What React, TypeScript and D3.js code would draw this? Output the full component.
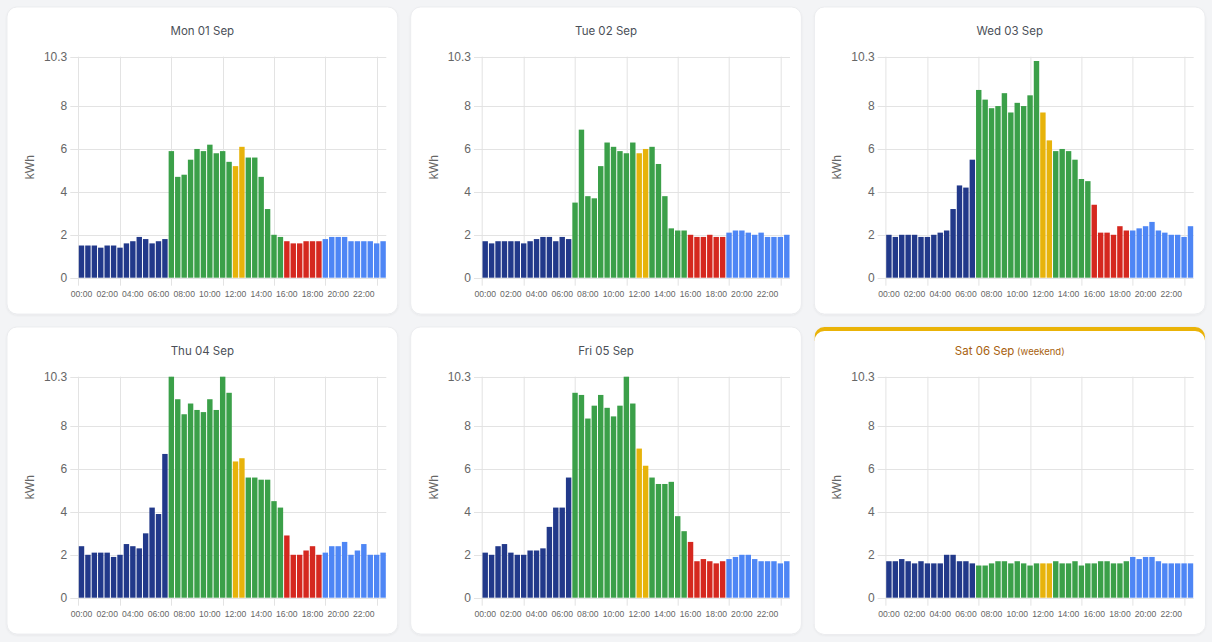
import { useEffect, useRef } from "react";
import * as d3 from "d3";

// Half-hourly consumption (kWh), 48 slots per day
const MON = [
  1.5, 1.5, 1.5, 1.4, 1.5, 1.5, 1.4, 1.6, 1.7, 1.9, 1.8, 1.6, 1.7, 1.8,
  5.9, 4.7, 4.8, 5.5, 6.0, 5.9, 6.2, 5.8, 5.9, 5.4,
  5.2, 6.1,
  5.6, 5.6, 4.7, 3.2, 2.0, 1.9,
  1.7, 1.6, 1.6, 1.7, 1.7, 1.7,
  1.8, 1.9, 1.9, 1.9, 1.7, 1.7, 1.7, 1.7, 1.6, 1.7,
];
const TUE = [
  1.7, 1.6, 1.7, 1.7, 1.7, 1.7, 1.6, 1.7, 1.8, 1.9, 1.9, 1.7, 1.9, 1.8,
  3.5, 6.9, 3.8, 3.7, 5.2, 6.3, 6.1, 5.9, 5.8, 6.3,
  5.8, 6.0,
  6.1, 5.3, 3.8, 2.3, 2.2, 2.2,
  2.0, 1.9, 1.9, 2.0, 1.9, 1.9,
  2.1, 2.2, 2.2, 2.1, 2.0, 2.1, 1.9, 1.9, 1.9, 2.0,
];
const WED = [
  2.0, 1.9, 2.0, 2.0, 2.0, 1.9, 1.9, 2.0, 2.1, 2.2, 3.2, 4.3, 4.2, 5.5,
  8.75, 8.3, 7.9, 8.0, 8.6, 7.7, 8.15, 8.0, 8.5, 10.1,
  7.7, 6.4,
  5.9, 6.0, 5.9, 5.5, 4.6, 4.5,
  3.4, 2.1, 2.1, 2.0, 2.4, 2.2,
  2.2, 2.3, 2.4, 2.6, 2.2, 2.1, 2.0, 2.0, 1.9, 2.4,
];
const THU = [
  2.4, 2.0, 2.1, 2.1, 2.1, 1.9, 2.0, 2.5, 2.4, 2.3, 3.0, 4.2, 3.9, 6.7,
  10.6, 9.25, 8.55, 9.05, 8.75, 8.65, 9.25, 8.75, 10.5, 9.55,
  6.35, 6.5,
  5.6, 5.6, 5.5, 5.5, 4.5, 4.2,
  2.9, 2.0, 2.0, 2.2, 2.4, 2.0,
  2.1, 2.4, 2.4, 2.6, 2.0, 2.2, 2.5, 2.0, 2.0, 2.1,
];
const FRI = [
  2.1, 2.0, 2.4, 2.5, 2.1, 2.0, 2.0, 2.2, 2.2, 2.3, 3.3, 4.2, 4.2, 5.6,
  9.55, 9.45, 8.35, 8.95, 9.45, 8.85, 8.45, 8.95, 10.4, 9.05,
  6.95, 6.15,
  5.6, 5.3, 5.3, 5.4, 3.8, 3.1,
  2.6, 1.7, 1.8, 1.7, 1.6, 1.7,
  1.8, 1.9, 2.0, 2.0, 1.8, 1.7, 1.7, 1.7, 1.6, 1.7,
];
const SAT = [
  1.7, 1.7, 1.8, 1.7, 1.6, 1.7, 1.6, 1.6, 1.6, 2.0, 2.0, 1.7, 1.7, 1.6,
  1.5, 1.5, 1.6, 1.7, 1.7, 1.6, 1.7, 1.6, 1.5, 1.6,
  1.6, 1.6,
  1.7, 1.6, 1.6, 1.7, 1.5, 1.6, 1.6, 1.7, 1.7, 1.6, 1.6, 1.7,
  1.9, 1.8, 1.9, 1.9, 1.7, 1.6, 1.6, 1.6, 1.6, 1.6,
];

const DAY_TITLES = ["Mon 01 Sep", "Tue 02 Sep", "Wed 03 Sep", "Thu 04 Sep", "Fri 05 Sep", "Sat 06 Sep"];
const DAY_VALUES = [MON, TUE, WED, THU, FRI, SAT];
const WEEKEND = [false, false, false, false, false, true];

// Tariff periods as [first slot, last slot + 1, band]
const WEEKDAY_PERIODS: [number, number, string][] = [
  [0, 14, "night"], [14, 24, "day"], [24, 26, "midday"], [26, 32, "day"], [32, 38, "peak"], [38, 48, "evening"],
];
const WEEKEND_PERIODS: [number, number, string][] = [
  [0, 14, "night"], [14, 24, "day"], [24, 26, "midday"], [26, 38, "day"], [38, 48, "evening"],
];
const BAND_COLORS: Record<string, string> = {
  night: "#22398a",
  day: "#3ba049",
  midday: "#e7b30b",
  peak: "#d5281f",
  evening: "#4e86f5",
};

const SLOTS = d3.range(48).map((i) => `${String(Math.floor(i / 2)).padStart(2, "0")}:${i % 2 ? "30" : "00"}`);
const X_TICK_LABELS = ["00:00", "02:00", "04:00", "06:00", "08:00", "10:00", "12:00", "14:00", "16:00", "18:00", "20:00", "22:00"];
const X_GRID_SLOTS = ["03:00", "07:00", "11:00", "15:00", "19:00", "23:00"];
const Y_TICKS = [0, 2, 4, 6, 8, 10.3];
const Y_MAX = 10.3;

const W = 1212;
const H = 642;
const CARD = { w: 390.7, h: 307, gapX: 13, gapY: 13, x0: 7, y0: 7, r: 10 };
const PLOT = { left: 71.3, right: 379.3, top: 49.7, bottom: 270.7 };
const GRID = "#e3e3e3";
const TICK_FONT = "'Liberation Sans', Arial, Helvetica, sans-serif";

function cardPath(w: number, h: number, r: number, dy = 0) {
  const p = d3.path();
  p.moveTo(r, dy);
  p.lineTo(w - r, dy);
  p.arcTo(w, dy, w, dy + r, r);
  p.lineTo(w, dy + h - r);
  p.arcTo(w, dy + h, w - r, dy + h, r);
  p.lineTo(r, dy + h);
  p.arcTo(0, dy + h, 0, dy + h - r, r);
  p.lineTo(0, dy + r);
  p.arcTo(0, dy, r, dy, r);
  p.closePath();
  return p.toString();
}

export default function App() {
  const svgRef = useRef<SVGSVGElement>(null);

  useEffect(() => {
    const svg = svgRef.current;
    if (!svg) return;
    const root = d3.select(svg);
    root.selectAll("*").remove();

    const defs = root.append("defs");
    const shadow = defs.append("filter").attr("id", "shadow").attr("x", "-5%").attr("y", "-5%").attr("width", "110%").attr("height", "110%");
    shadow.append("feDropShadow").attr("dx", 0).attr("dy", 1).attr("stdDeviation", 1.2).attr("flood-color", "#000").attr("flood-opacity", 0.06);

    root.append("rect").attr("width", W).attr("height", H).attr("fill", "#f3f4f6");

    const x = d3.scaleBand<string>().domain(SLOTS).range([PLOT.left, PLOT.right]).padding(0);
    const y = d3.scaleLinear().domain([0, Y_MAX]).range([PLOT.bottom, PLOT.top]).clamp(true);

    DAY_VALUES.forEach((values, d) => {
      const col = d % 3;
      const row = Math.floor(d / 3);
      const g = root
        .append("g")
        .attr("transform", `translate(${CARD.x0 + col * (CARD.w + CARD.gapX)},${CARD.y0 + row * (CARD.h + CARD.gapY)})`);

      // Card
      g.append("path")
        .attr("d", cardPath(CARD.w, CARD.h, CARD.r))
        .attr("fill", "#fff")
        .attr("stroke", "#e9eaec")
        .attr("stroke-width", 0.8)
        .attr("filter", "url(#shadow)");

      if (WEEKEND[d]) {
        const clipId = `card-clip-${d}`;
        defs.append("clipPath").attr("id", clipId).append("path").attr("d", cardPath(CARD.w, CARD.h, CARD.r));
        const top = g.append("g").attr("clip-path", `url(#${clipId})`);
        top.append("rect").attr("width", CARD.w).attr("height", 14).attr("fill", "#eab308");
        top.append("path").attr("d", cardPath(CARD.w, CARD.h, CARD.r, 4)).attr("fill", "#fff");
      }

      // Title
      const title = g
        .append("text")
        .attr("x", CARD.w / 2)
        .attr("y", 28)
        .attr("text-anchor", "middle")
        .attr("font-family", "Inter, 'Noto Sans', sans-serif")
        .attr("font-size", "11.5px")
        .attr("fill", WEEKEND[d] ? "#a8620f" : "#4b5058")
        .text(DAY_TITLES[d]);
      if (WEEKEND[d]) {
        title.append("tspan").attr("font-size", "9.5px").text(" (weekend)");
      }

      // Horizontal grid
      g.append("g")
        .selectAll("line")
        .data(Y_TICKS)
        .join("line")
        .attr("x1", PLOT.left - 8)
        .attr("x2", PLOT.right)
        .attr("y1", (v) => Math.round(y(v)) + 0.5)
        .attr("y2", (v) => Math.round(y(v)) + 0.5)
        .attr("stroke", GRID)
        .attr("stroke-width", 1);

      // Vertical grid + left edge
      const gridX = [PLOT.left, ...X_GRID_SLOTS.map((s) => (x(s) ?? 0) + x.bandwidth() / 2)];
      g.append("g")
        .selectAll("line")
        .data(gridX)
        .join("line")
        .attr("x1", (v) => Math.round(v) + 0.5)
        .attr("x2", (v) => Math.round(v) + 0.5)
        .attr("y1", PLOT.top)
        .attr("y2", PLOT.bottom + 8)
        .attr("stroke", GRID)
        .attr("stroke-width", 1);

      // Bars
      const periods = WEEKEND[d] ? WEEKEND_PERIODS : WEEKDAY_PERIODS;
      const bandOf = (i: number) => periods.find(([a, b]) => i >= a && i < b)?.[2] ?? "day";
      g.append("g")
        .selectAll("rect")
        .data(values)
        .join("rect")
        .attr("x", (_, i) => (x(SLOTS[i]) ?? 0) + 0.5)
        .attr("width", x.bandwidth() - 1)
        .attr("y", (v) => y(v))
        .attr("height", (v) => y(0) - y(v))
        .attr("fill", (_, i) => BAND_COLORS[bandOf(i)]);

      // Y tick labels
      g.append("g")
        .selectAll("text")
        .data(Y_TICKS)
        .join("text")
        .attr("x", PLOT.left - 11)
        .attr("y", (v) => y(v))
        .attr("dy", "0.35em")
        .attr("text-anchor", "end")
        .attr("font-family", TICK_FONT)
        .attr("font-size", "12px")
        .attr("fill", "#666")
        .text((v) => String(v));

      // X tick labels
      g.append("g")
        .selectAll("text")
        .data(X_TICK_LABELS)
        .join("text")
        .attr("x", (s) => (x(s) ?? 0) + x.bandwidth() / 2)
        .attr("y", PLOT.bottom + 19.5)
        .attr("text-anchor", "middle")
        .attr("font-family", TICK_FONT)
        .attr("font-size", "8.6px")
        .attr("fill", "#666")
        .text((s) => s);

      // Axis title
      g.append("text")
        .attr("transform", `translate(${27},${(PLOT.top + PLOT.bottom) / 2}) rotate(-90)`)
        .attr("text-anchor", "middle")
        .attr("font-family", TICK_FONT)
        .attr("font-size", "12px")
        .attr("fill", "#666")
        .text("kWh");
    });
  }, []);

  return <svg ref={svgRef} width={W} height={H} style={{ position: "absolute", left: 0, top: 0, display: "block" }} />;
}
